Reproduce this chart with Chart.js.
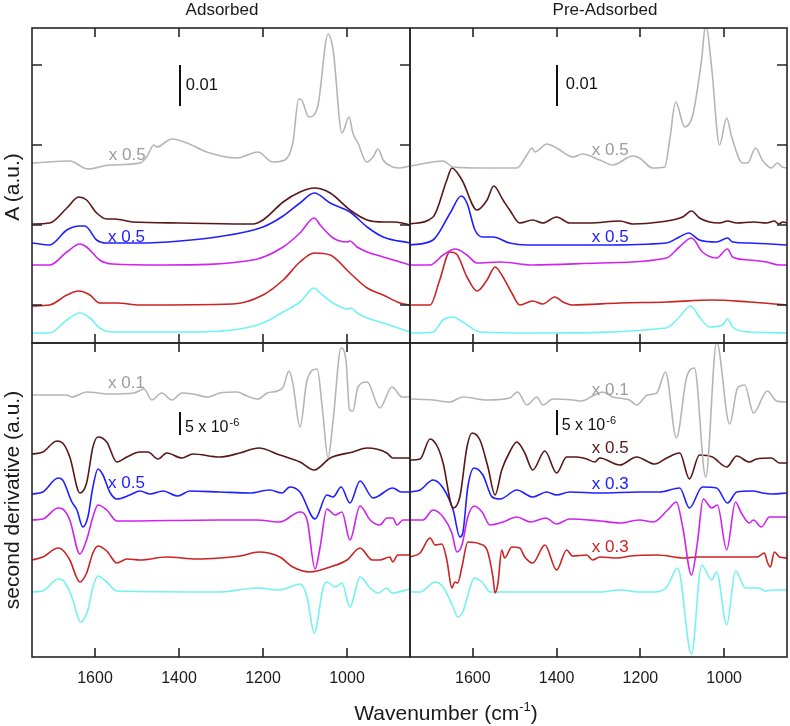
<!DOCTYPE html>
<html>
<head>
<meta charset="utf-8">
<title>Adsorbed / Pre-Adsorbed spectra</title>
<script src="https://cdn.jsdelivr.net/npm/chart.js@4.4.1/dist/chart.umd.min.js"></script>
<style>
  body { margin: 0; width: 790px; height: 726px; overflow: hidden; background: #fff; position: relative;
         font-family: "Liberation Sans", Arial, sans-serif; color: #1a1a1a; }
  canvas { position: absolute; }
  .txt { position: absolute; white-space: nowrap; line-height: 1; }
  .vert { transform: translate(-50%, -50%) rotate(-90deg); }
  .hcenter { transform: translateX(-50%); }
</style>
</head>
<body>
<canvas id="adsAbs" width="420" height="353" style="left:0;top:0"></canvas>
<canvas id="preAbs" width="390" height="353" style="left:400px;top:0"></canvas>
<canvas id="adsDer" width="420" height="393" style="left:0;top:333px"></canvas>
<canvas id="preDer" width="390" height="393" style="left:400px;top:333px"></canvas>

<div class="txt hcenter" style="left:222px;top:1px;font-size:17px">Adsorbed</div>
<div class="txt hcenter" style="left:605px;top:1px;font-size:17px">Pre-Adsorbed</div>
<div class="txt vert" style="left:11px;top:187px;font-size:21px">A (a.u.)</div>
<div class="txt vert" style="left:11px;top:500px;font-size:21px">second derivative (a.u.)</div>
<div class="txt hcenter" style="left:446px;top:702px;font-size:21px">Wavenumber (cm<sup style="font-size:13px;line-height:0;vertical-align:9px">-1</sup>)</div>

<script>
// Stacked IR spectra: absorbance (top) and second derivative (bottom)
// Each trace is a list of [wavenumber, value], drawn above its baseline offset

const waveMin = 850, waveMax = 1750;
const waveTicks = [1600, 1400, 1200, 1000];
const absTicks = [38, 118, 198, 278];

// gray, brown, blue, magenta, red, cyan (top to bottom)
const traceColors = ['#b5b5b5', '#5a1616', '#2020ff', '#cf22ef', '#cb2323', '#72f2f2'];

// ---- Adsorbed, absorbance ----
const adsAbsOffsets = [180, 119, 100, 78, 38, 10];
const adsAbsGray = [[1750,0],[1660,2],[1617,-6],[1565,-2],[1493,0],[1477,6],[1460,18],[1453,16],[1417,24],[1381,20],[1334,11],[1262,5],[1212,11],[1177,1],[1148,3],[1129,20],[1115,64],[1108,63],[1091,46],[1070,56],[1045,129],[1033,113],[1012,30],[995,46],[986,30],[974,20],[953,1],[938,6],[926,14],[914,3],[891,-4],[874,-5],[850,-3]];
const adsAbsBrown = [[1750,0],[1708,1],[1667,16],[1639,27],[1620,24],[1596,11],[1572,5],[1553,5],[1510,2],[1398,1],[1224,0],[1200,4],[1152,22],[1112,32],[1078,36],[1040,31],[993,14],[952,4],[914,2],[891,2],[869,1],[850,-1]];
const adsAbsBlue = [[1750,0],[1708,-2],[1667,13],[1636,17],[1624,17],[1596,3],[1572,0],[1493,0],[1398,2],[1310,6],[1200,16],[1152,27],[1112,40],[1078,50],[1040,40],[993,31],[952,16],[914,6],[850,0]];
const adsAbsMagenta = [[1750,0],[1708,0],[1667,13],[1636,21],[1620,18],[1589,5],[1558,1],[1435,0],[1224,5],[1152,18],[1112,32],[1078,47],[1064,40],[1033,27],[1000,23],[993,24],[976,18],[952,13],[914,8],[850,0]];
const adsAbsRed = [[1750,-1],[1708,0],[1667,10],[1639,14],[1612,10],[1589,2],[1548,2],[1493,0],[1272,1],[1200,10],[1152,25],[1112,43],[1078,52],[1040,50],[993,32],[952,17],[914,10],[874,2],[850,0]];
const adsAbsCyan = [[1750,0],[1708,0],[1667,13],[1636,20],[1612,15],[1589,5],[1558,1],[1398,1],[1272,3],[1200,10],[1152,21],[1112,31],[1078,45],[1064,40],[1033,30],[1000,24],[990,25],[976,20],[952,15],[914,10],[850,1]];

// ---- Pre-Adsorbed, absorbance ----
const preAbsOffsets = [177, 119, 98, 78, 38, 10];
const preAbsGray = [[1750,0],[1671,5],[1647,-1],[1576,-2],[1495,-2],[1471,11],[1459,18],[1452,14],[1423,22],[1400,18],[1361,9],[1338,12],[1297,6],[1266,1],[1218,10],[1202,8],[1171,-2],[1142,-1],[1130,26],[1116,64],[1094,39],[1075,51],[1054,106],[1044,142],[1030,99],[1011,21],[994,48],[982,29],[956,3],[944,3],[925,18],[909,6],[887,-2],[873,3],[861,-1],[850,-2]];
const preAbsBrown = [[1750,0],[1695,7],[1662,44],[1650,56],[1626,44],[1590,14],[1566,24],[1550,38],[1528,24],[1512,14],[1488,1],[1457,4],[1433,1],[1400,7],[1369,1],[1321,1],[1249,3],[1218,0],[1154,2],[1099,7],[1078,13],[1059,6],[1035,2],[1011,1],[992,3],[970,1],[930,2],[899,1],[880,3],[870,0],[860,2],[850,1]];
const preAbsBlue = [[1750,0],[1695,5],[1654,32],[1628,49],[1614,42],[1595,15],[1576,8],[1552,8],[1512,2],[1471,0],[1297,0],[1138,2],[1107,8],[1085,12],[1059,5],[1018,3],[992,7],[980,3],[940,2],[850,0]];
const preAbsMagenta = [[1750,0],[1702,0],[1671,10],[1642,16],[1614,10],[1590,2],[1535,3],[1457,0],[1297,2],[1138,7],[1107,18],[1078,27],[1052,13],[1018,7],[992,16],[980,8],[940,5],[899,3],[868,0],[850,0]];
const preAbsRed = [[1750,0],[1702,0],[1679,25],[1655,53],[1639,51],[1614,28],[1590,14],[1566,25],[1547,38],[1528,28],[1507,12],[1488,0],[1457,4],[1433,1],[1404,8],[1385,3],[1362,0],[1249,2],[1138,3],[1028,5],[940,3],[850,0]];
const preAbsCyan = [[1750,0],[1695,1],[1671,13],[1648,16],[1624,11],[1583,1],[1457,0],[1138,5],[1107,16],[1080,27],[1059,16],[1035,6],[1004,8],[992,14],[980,6],[940,1],[850,0]];

// ---- Adsorbed, second derivative ----
const adsDerOffsets = [262, 202, 164, 137, 98, 65];
const adsDerGray = [[1750,0],[1667,0],[1655,-2],[1620,3],[1565,1],[1507,2],[1483,6],[1465,-5],[1441,2],[1417,-5],[1393,2],[1367,1],[1331,-2],[1303,2],[1262,3],[1238,-1],[1212,-4],[1190,2],[1166,4],[1152,8],[1138,24],[1129,12],[1112,-32],[1095,15],[1071,26],[1059,-12],[1045,-63],[1033,-25],[1014,47],[1002,33],[994,-15],[986,-16],[974,8],[952,13],[922,-13],[893,8],[869,-2],[850,-2]];
const adsDerBrown = [[1750,1],[1724,3],[1691,14],[1677,12],[1660,-2],[1636,-38],[1620,-28],[1605,8],[1593,18],[1572,13],[1548,-7],[1524,-2],[1493,3],[1474,3],[1450,-4],[1429,2],[1393,-3],[1367,1],[1303,-2],[1255,2],[1210,7],[1160,0],[1112,-7],[1078,-15],[1040,-3],[986,3],[952,7],[905,2],[891,-3],[850,-3]];
const adsDerBlue = [[1750,-1],[1724,1],[1688,15],[1677,13],[1655,-9],[1643,-17],[1629,-34],[1617,-24],[1605,6],[1593,24],[1581,18],[1565,1],[1548,-6],[1517,-2],[1493,2],[1469,-1],[1438,2],[1403,-3],[1374,2],[1303,1],[1231,0],[1184,3],[1155,0],[1136,6],[1112,1],[1076,-26],[1048,-2],[1033,-4],[1014,6],[993,-10],[969,12],[938,-5],[891,5],[871,1],[850,1]];
const adsDerMagenta = [[1750,0],[1724,1],[1688,12],[1677,11],[1660,0],[1636,-34],[1620,-20],[1605,3],[1593,15],[1572,10],[1548,-1],[1303,0],[1215,0],[1160,-2],[1112,8],[1095,0],[1076,-49],[1064,-27],[1048,11],[1028,5],[1012,8],[993,-20],[969,14],[945,0],[922,-5],[905,2],[891,2],[881,-5],[867,0],[850,0]];
const adsDerRed = [[1750,-1],[1724,2],[1688,11],[1677,9],[1660,-1],[1636,-23],[1620,-14],[1605,6],[1593,13],[1572,8],[1548,-4],[1524,0],[1493,-1],[1429,2],[1357,0],[1303,1],[1255,3],[1210,7],[1160,2],[1129,-8],[1088,-13],[1040,-8],[1000,-1],[969,11],[940,-1],[922,-1],[898,2],[891,-3],[879,4],[850,4]];
const adsDerCyan = [[1750,0],[1724,1],[1688,13],[1677,12],[1655,-5],[1634,-30],[1617,-18],[1605,5],[1593,16],[1572,10],[1548,1],[1303,0],[1215,4],[1160,2],[1136,5],[1112,8],[1095,-5],[1078,-41],[1057,4],[1048,10],[1028,5],[1012,9],[993,-15],[969,15],[945,4],[926,-1],[905,4],[893,-1],[850,3]];

// ---- Pre-Adsorbed, second derivative ----
const preDerOffsets = [258, 197, 165, 137, 101, 65];
const preDerGray = [[1750,0],[1695,-1],[1655,-3],[1624,2],[1566,-1],[1512,1],[1493,7],[1471,-6],[1447,2],[1433,-6],[1409,0],[1361,-1],[1340,-2],[1314,3],[1290,7],[1266,2],[1226,-1],[1209,-6],[1183,4],[1161,6],[1140,27],[1114,-39],[1090,21],[1071,31],[1044,-78],[1018,57],[987,-25],[968,11],[951,14],[930,-14],[897,8],[875,-2],[850,-3]];
const preDerBrown = [[1750,0],[1726,1],[1702,21],[1683,12],[1671,-3],[1647,-48],[1631,-37],[1614,13],[1602,27],[1583,20],[1564,-7],[1547,-35],[1531,-10],[1512,8],[1495,18],[1476,7],[1457,-10],[1428,9],[1400,-13],[1376,3],[1352,3],[1328,1],[1309,-2],[1297,2],[1249,-5],[1209,3],[1166,-4],[1137,2],[1106,7],[1083,-19],[1059,5],[1028,3],[994,-7],[970,4],[940,-2],[923,1],[887,2],[868,-3],[850,-3]];
const preDerBlue = [[1750,0],[1726,2],[1695,12],[1671,4],[1647,-18],[1631,-45],[1624,-41],[1612,5],[1597,24],[1576,17],[1554,-5],[1535,-7],[1495,2],[1457,-5],[1424,0],[1400,-3],[1369,0],[1297,-1],[1202,0],[1154,0],[1106,4],[1083,-16],[1052,5],[1018,4],[992,-11],[970,0],[932,1],[909,-1],[885,-2],[850,-1]];
const preDerMagenta = [[1750,0],[1719,0],[1695,10],[1671,3],[1650,-13],[1638,-32],[1626,-25],[1612,3],[1597,14],[1578,8],[1559,-5],[1528,-2],[1495,3],[1462,-2],[1426,2],[1400,-4],[1369,1],[1297,-1],[1249,-3],[1202,0],[1169,-2],[1135,10],[1114,18],[1099,-7],[1078,-55],[1064,-23],[1050,21],[1030,12],[1016,15],[994,-30],[973,18],[959,7],[940,-3],[930,0],[911,-7],[892,3],[850,3]];
const preDerRed = [[1750,-1],[1726,3],[1702,18],[1690,11],[1674,12],[1662,-4],[1650,-32],[1643,-26],[1636,-27],[1626,-11],[1612,14],[1583,12],[1566,6],[1552,-21],[1547,-37],[1540,-27],[1531,6],[1524,-2],[1507,9],[1488,8],[1476,-1],[1457,-7],[1428,11],[1400,-14],[1376,6],[1362,0],[1328,1],[1314,-4],[1297,-1],[1255,-2],[1223,0],[1159,1],[1095,-2],[1064,-1],[985,-1],[921,-1],[904,3],[897,-6],[890,-11],[880,4],[868,-1],[850,-2]];
const preDerCyan = [[1750,0],[1726,0],[1690,10],[1671,5],[1647,-15],[1636,-25],[1624,-20],[1607,4],[1597,14],[1576,9],[1559,0],[1547,0],[1297,0],[1249,2],[1202,0],[1166,0],[1137,5],[1111,24],[1078,-62],[1054,27],[1030,12],[1018,20],[994,-33],[973,21],[949,4],[918,4],[902,1],[883,2],[850,2]];

const FONT = '"Liberation Sans", Arial, sans-serif';

// frame, inward ticks, tick labels, scale bar and "x 0.5" style notes
function framePlugin(deco) {
    return {
        id: 'panelFrame',
        afterDatasetsDraw(chart) {
            const ctx = chart.ctx;
            const area = chart.chartArea;
            const xs = chart.scales.x, ys = chart.scales.y;
            ctx.save();
            ctx.strokeStyle = '#262626';
            ctx.lineWidth = 1.6;
            ctx.strokeRect(area.left, area.top, area.right - area.left, area.bottom - area.top);

            ctx.beginPath();
            waveTicks.forEach(w => {
                const px = Math.round(xs.getPixelForValue(w));
                ctx.moveTo(px, area.top); ctx.lineTo(px, area.top + 9);
                ctx.moveTo(px, area.bottom); ctx.lineTo(px, area.bottom - 9);
            });
            (deco.leftTicks || []).forEach(v => {
                const py = Math.round(ys.getPixelForValue(v));
                ctx.moveTo(area.left, py); ctx.lineTo(area.left + 10, py);
            });
            (deco.rightTicks || []).forEach(v => {
                const py = Math.round(ys.getPixelForValue(v));
                ctx.moveTo(area.right, py); ctx.lineTo(area.right - 10, py);
            });
            ctx.stroke();

            if (deco.tickLabels) {
                ctx.fillStyle = '#1a1a1a';
                ctx.font = '16px ' + FONT;
                ctx.textAlign = 'center';
                ctx.textBaseline = 'alphabetic';
                waveTicks.forEach(w => ctx.fillText(String(w), xs.getPixelForValue(w), area.bottom + 26));
            }

            if (deco.bar) {
                const bx = Math.round(xs.getPixelForValue(deco.bar.w));
                ctx.strokeStyle = '#111';
                ctx.lineWidth = 2;
                ctx.beginPath();
                ctx.moveTo(bx, ys.getPixelForValue(deco.bar.from));
                ctx.lineTo(bx, ys.getPixelForValue(deco.bar.to));
                ctx.stroke();
            }

            ctx.textAlign = 'left';
            ctx.textBaseline = 'alphabetic';
            (deco.notes || []).forEach(n => {
                const tx = xs.getPixelForValue(n.w);
                const ty = ys.getPixelForValue(n.h);
                ctx.fillStyle = n.color;
                ctx.font = (n.size || 17) + 'px ' + FONT;
                ctx.fillText(n.text, tx, ty);
                if (n.sup) {
                    const tw = ctx.measureText(n.text).width;
                    ctx.font = '11px ' + FONT;
                    ctx.fillText(n.sup, tx + tw + 1, ty - 6);
                }
            });
            ctx.restore();
        }
    };
}

function buildPanel(canvasId, yMax, offsets, traces, pad, deco) {
    const datasets = traces.map((pts, i) => ({
        data: pts.map(p => ({ x: p[0], y: offsets[i] + p[1] })),
        borderColor: traceColors[i],
        borderWidth: 1.6,
        pointRadius: 0,
        fill: false,
        cubicInterpolationMode: 'monotone'
    }));
    return new Chart(document.getElementById(canvasId), {
        type: 'line',
        data: { datasets: datasets },
        options: {
            responsive: false,
            animation: false,
            events: [],
            layout: { padding: pad },
            scales: {
                x: { type: 'linear', min: waveMin, max: waveMax, reverse: true, display: false },
                y: { type: 'linear', min: 0, max: yMax, display: false }
            },
            plugins: { legend: { display: false }, tooltip: { enabled: false } }
        },
        plugins: [framePlugin(deco)]
    });
}

const gray = '#9c9c9c';

buildPanel('adsAbs', 315, adsAbsOffsets,
    [adsAbsGray, adsAbsBrown, adsAbsBlue, adsAbsMagenta, adsAbsRed, adsAbsCyan],
    { left: 32, top: 28, right: 10, bottom: 10 },
    {
        leftTicks: absTicks, rightTicks: absTicks,
        bar: { w: 1398, from: 237, to: 278 },
        notes: [
            { w: 1567, h: 183, text: 'x 0.5', color: gray },
            { w: 1569, h: 101, text: 'x 0.5', color: traceColors[2] },
            { w: 1384, h: 253, text: '0.01', color: '#111', size: 16.5 }
        ]
    });

buildPanel('preAbs', 315, preAbsOffsets,
    [preAbsGray, preAbsBrown, preAbsBlue, preAbsMagenta, preAbsRed, preAbsCyan],
    { left: 10, top: 28, right: 3, bottom: 10 },
    {
        rightTicks: absTicks,
        bar: { w: 1400, from: 237, to: 278 },
        notes: [
            { w: 1316, h: 188, text: 'x 0.5', color: gray },
            { w: 1316, h: 101, text: 'x 0.5', color: traceColors[2] },
            { w: 1378, h: 254, text: '0.01', color: '#111', size: 16.5 }
        ]
    });

buildPanel('adsDer', 314, adsDerOffsets,
    [adsDerGray, adsDerBrown, adsDerBlue, adsDerMagenta, adsDerRed, adsDerCyan],
    { left: 32, top: 10, right: 10, bottom: 69 },
    {
        tickLabels: true,
        bar: { w: 1398, from: 222, to: 245 },
        notes: [
            { w: 1569, h: 269, text: 'x 0.1', color: gray },
            { w: 1569, h: 169, text: 'x 0.5', color: traceColors[2] },
            { w: 1386, h: 225, text: '5 x 10', sup: '-6', color: '#111', size: 16 }
        ]
    });

buildPanel('preDer', 314, preDerOffsets,
    [preDerGray, preDerBrown, preDerBlue, preDerMagenta, preDerRed, preDerCyan],
    { left: 10, top: 10, right: 3, bottom: 69 },
    {
        tickLabels: true,
        bar: { w: 1400, from: 222, to: 247 },
        notes: [
            { w: 1316, h: 262, text: 'x 0.1', color: gray },
            { w: 1388, h: 227, text: '5 x 10', sup: '-6', color: '#111', size: 16 },
            { w: 1316, h: 204, text: 'x 0.5', color: traceColors[1] },
            { w: 1316, h: 168, text: 'x 0.3', color: traceColors[2] },
            { w: 1316, h: 105, text: 'x 0.3', color: traceColors[4] }
        ]
    });
</script>
</body>
</html>
